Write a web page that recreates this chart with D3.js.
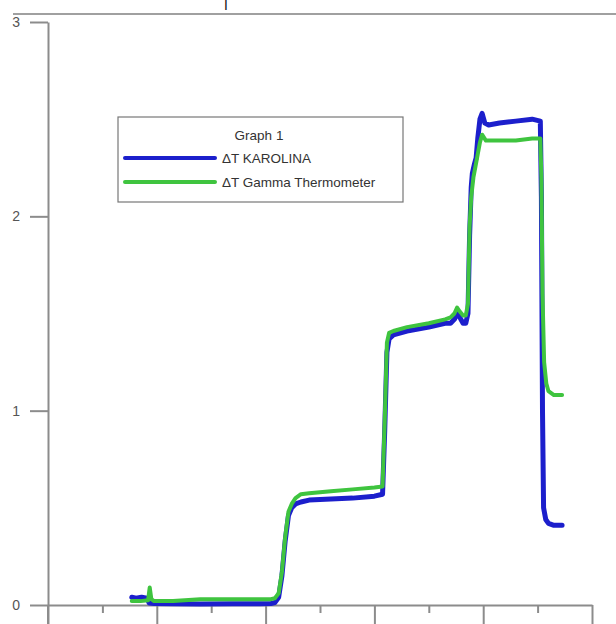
<!DOCTYPE html>
<html>
<head>
<meta charset="utf-8">
<script src="https://cdn.jsdelivr.net/npm/d3@7"></script>
<style>
  html, body { margin: 0; padding: 0; background: #fff; }
  svg { display: block; font-family: "Liberation Sans", Arial, sans-serif; }
</style>
</head>
<body>
<div id="chart"></div>
<script>
// values (x in axis units 0..10, y in °C)
const karolinaX = [1.54,1.62,1.72,1.82,1.86,1.95,2.3,2.8,3.4,3.9,4.1,4.17,4.24,4.3,4.36,4.42,4.48,4.55,4.65,4.8,5.2,5.6,6.0,6.15,6.19,6.23,6.27,6.35,6.6,7.0,7.3,7.4,7.47,7.52,7.57,7.63,7.68,7.72,7.75,7.78,7.8,7.84,7.87,7.9,7.94,7.98,8.03,8.1,8.3,8.6,8.9,9.05,9.07,9.09,9.11,9.15,9.2,9.3,9.45];
const karolinaY = [0.04,0.035,0.04,0.035,0.01,0.008,0.006,0.005,0.006,0.007,0.008,0.012,0.04,0.15,0.33,0.46,0.5,0.52,0.53,0.54,0.545,0.55,0.56,0.57,0.9,1.3,1.37,1.39,1.41,1.43,1.45,1.45,1.47,1.50,1.48,1.45,1.45,1.5,1.9,2.15,2.22,2.27,2.30,2.4,2.5,2.53,2.48,2.47,2.48,2.49,2.50,2.49,2.1,1.0,0.5,0.44,0.42,0.41,0.41];

const gammaX = [1.54,1.7,1.84,1.87,1.9,1.95,2.3,2.8,3.4,3.9,4.1,4.17,4.24,4.3,4.36,4.42,4.48,4.55,4.65,4.8,5.2,5.6,6.0,6.15,6.19,6.23,6.27,6.35,6.6,7.0,7.3,7.4,7.47,7.52,7.57,7.63,7.68,7.72,7.75,7.78,7.82,7.86,7.9,7.94,7.98,8.05,8.2,8.6,8.9,9.05,9.07,9.09,9.12,9.16,9.2,9.3,9.45];
const gammaY = [0.02,0.02,0.025,0.09,0.03,0.02,0.02,0.03,0.03,0.03,0.03,0.035,0.06,0.17,0.35,0.48,0.52,0.55,0.57,0.575,0.585,0.595,0.605,0.61,0.95,1.35,1.4,1.41,1.43,1.45,1.47,1.48,1.5,1.53,1.51,1.49,1.49,1.55,1.95,2.1,2.2,2.26,2.32,2.38,2.42,2.39,2.39,2.39,2.40,2.40,2.2,1.6,1.25,1.14,1.1,1.08,1.08];

const xMajorTicks = [0, 2, 4, 6, 8, 10];
const xMinorTicks = [1, 3, 5, 7, 9];
const yTicks = [0, 1, 2, 3];
const yTickLabels = ['0', '1', '2', '3'];
const seriesNames = ['\u0394T KAROLINA', '\u0394T Gamma Thermometer'];
const legendTitle = 'Graph 1';

const width = 616, height = 624;
const axisColor = '#8c8c8c';
const blue = '#1c1fcc', green = '#3fc43f';

const svg = d3.select('#chart').append('svg')
  .attr('width', width)
  .attr('height', height);

const x = d3.scaleLinear().domain([0, 10]).range([48, 592]);
const y = d3.scaleLinear().domain([0, 3]).range([605, 22]);

// top frame line + title fragment
svg.append('line')
  .attr('x1', 13).attr('x2', width).attr('y1', 14).attr('y2', 14)
  .attr('stroke', '#a0a0a0').attr('stroke-width', 2);
svg.append('text')
  .attr('x', 226).attr('y', 8)
  .attr('text-anchor', 'middle')
  .attr('font-size', 10).attr('font-weight', 'bold').attr('fill', '#111')
  .text('|');

// x axis: long major ticks, short minor ticks
svg.append('g')
  .attr('transform', `translate(0,${y(0)})`)
  .call(d3.axisBottom(x).tickValues(xMajorTicks).tickSize(22).tickSizeOuter(0).tickFormat(''));
svg.append('g')
  .attr('transform', `translate(0,${y(0)})`)
  .call(d3.axisBottom(x).tickValues(xMinorTicks).tickSize(8).tickSizeOuter(0).tickFormat(''))
  .select('.domain').remove();

// y axis
const yAxis = svg.append('g')
  .attr('transform', `translate(${x(0)},0)`)
  .call(d3.axisLeft(y).tickValues(yTicks).tickSize(18).tickSizeOuter(0).tickPadding(10)
    .tickFormat((d, i) => yTickLabels[i]));

// y axis continues below the x axis
svg.append('line')
  .attr('x1', x(0)).attr('x2', x(0)).attr('y1', y(0)).attr('y2', height)
  .attr('stroke', axisColor).attr('stroke-width', 2);

svg.selectAll('.domain, .tick line')
  .attr('stroke', axisColor).attr('stroke-width', 2);
yAxis.selectAll('text')
  .attr('fill', '#555').attr('font-size', 14);

// series
const line = d3.line()
  .x(d => x(d[0]))
  .y(d => y(d[1]));

const karolina = karolinaX.map((v, i) => [v, karolinaY[i]]);
const gamma = gammaX.map((v, i) => [v, gammaY[i]]);

svg.append('path')
  .datum(karolina)
  .attr('fill', 'none')
  .attr('stroke', blue)
  .attr('stroke-width', 5)
  .attr('stroke-linejoin', 'round')
  .attr('stroke-linecap', 'round')
  .attr('d', line);

svg.append('path')
  .datum(gamma)
  .attr('fill', 'none')
  .attr('stroke', green)
  .attr('stroke-width', 4)
  .attr('stroke-linejoin', 'round')
  .attr('stroke-linecap', 'round')
  .attr('d', line);

// legend
const legend = svg.append('g');
legend.append('rect')
  .attr('x', 118).attr('y', 117).attr('width', 285).attr('height', 85)
  .attr('fill', '#fff').attr('stroke', '#777').attr('stroke-width', 1.2);
legend.append('text')
  .attr('x', 259).attr('y', 140)
  .attr('text-anchor', 'middle')
  .attr('font-size', 13.5).attr('fill', '#333')
  .text(legendTitle);

[blue, green].forEach((c, i) => {
  const ly = 158 + i * 24;
  legend.append('line')
    .attr('x1', 125).attr('x2', 215).attr('y1', ly).attr('y2', ly)
    .attr('stroke', c).attr('stroke-width', 4).attr('stroke-linecap', 'round');
  legend.append('text')
    .attr('x', 222).attr('y', ly + 5)
    .attr('font-size', 13.5).attr('fill', '#333')
    .text(seriesNames[i]);
});
</script>
</body>
</html>
